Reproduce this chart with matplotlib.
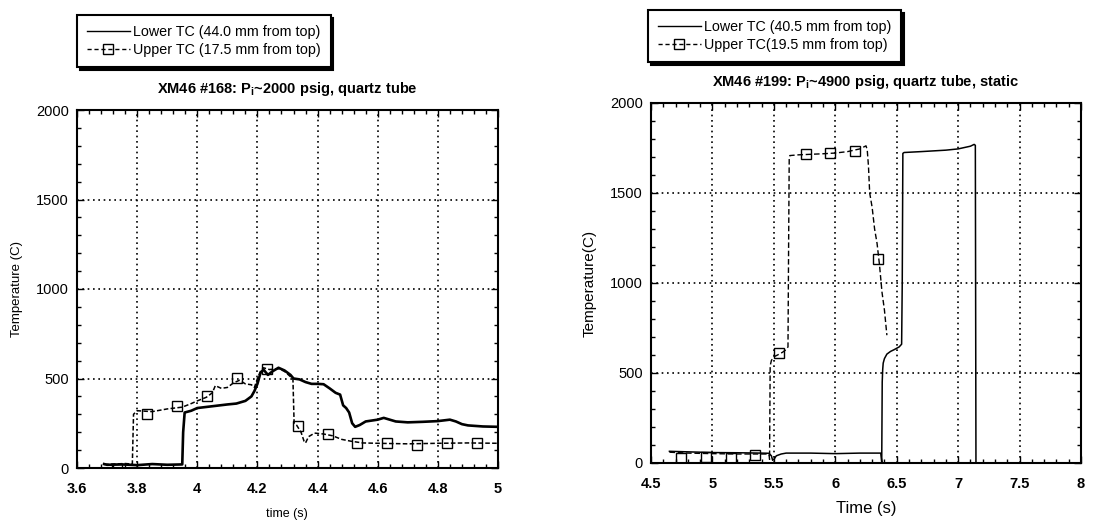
import matplotlib
matplotlib.use("Agg")
import matplotlib.pyplot as plt
from matplotlib.lines import Line2D
from matplotlib.ticker import MultipleLocator

plt.rcParams['font.family'] = ['Liberation Sans', 'DejaVu Sans']
plt.rcParams['mathtext.fontset'] = 'custom'
plt.rcParams['mathtext.rm'] = 'Liberation Sans:bold'

# ---------------- Left chart data (XM46 #168) ----------------
left_lower_t = [3.69, 3.70, 3.75, 3.80, 3.85, 3.90, 3.95, 3.953, 3.958, 3.98, 4.00, 4.05,
                4.10, 4.13, 4.16, 4.18, 4.19, 4.20, 4.21, 4.22, 4.235, 4.25, 4.27, 4.29,
                4.31, 4.32, 4.34, 4.36, 4.38, 4.40, 4.42, 4.44, 4.46, 4.475, 4.485, 4.495,
                4.505, 4.515, 4.525, 4.54, 4.56, 4.58, 4.60, 4.62, 4.64, 4.66, 4.70, 4.75,
                4.80, 4.84, 4.86, 4.88, 4.90, 4.95, 5.0]
left_lower_T = [22, 18, 20, 16, 22, 18, 20, 200, 310, 320, 335, 345,
                355, 360, 375, 400, 430, 470, 530, 550, 520, 540, 560, 545,
                520, 500, 495, 480, 470, 470, 468, 445, 420, 410, 350, 335,
                310, 250, 230, 240, 260, 265, 270, 280, 270, 260, 255, 258,
                262, 270, 260, 245, 238, 232, 230]

left_upper_t = [3.69, 3.72, 3.76, 3.784, 3.788, 3.80, 3.85, 3.90, 3.95, 3.98, 4.00, 4.03,
                4.05, 4.06, 4.08, 4.10, 4.12, 4.14, 4.16, 4.18, 4.19, 4.20, 4.21, 4.22,
                4.24, 4.27, 4.29, 4.31, 4.318, 4.322, 4.33, 4.345, 4.355, 4.36, 4.37,
                4.39, 4.42, 4.45, 4.48, 4.51, 4.55, 4.60, 4.70, 4.80, 4.90, 5.0]
left_upper_T = [20, 22, 25, 22, 300, 320, 315, 330, 340, 360, 375, 395,
                420, 460, 445, 450, 475, 490, 470, 465, 450, 500, 540, 560,
                550, 555, 540, 510, 500, 250, 240, 200, 150, 140, 175,
                195, 190, 180, 160, 150, 140, 138, 135, 138, 140, 138]

left_marker_t = [3.733, 3.833, 3.932, 4.032, 4.131, 4.231, 4.336, 4.436, 4.532, 4.632,
                 4.731, 4.831, 4.93]
left_marker_T = [-5, 300, 345, 405, 505, 555, 235, 190, 140, 140, 130, 140, 142]

# ---------------- Right chart data (XM46 #199) ----------------
right_lower_t = [4.65, 4.8, 5.0, 5.2, 5.4, 5.46, 5.48, 5.49, 5.50, 5.52, 5.56, 5.6, 5.8,
                 6.0, 6.2, 6.37, 6.378, 6.382, 6.386, 6.39, 6.40, 6.42, 6.45, 6.48, 6.52,
                 6.54, 6.545, 6.55, 6.56, 6.7, 6.9, 7.0, 7.1, 7.13, 7.14, 7.145]
right_lower_T = [65, 62, 58, 57, 55, 54, 40, 15, 20, 40, 50, 55, 55,
                 52, 55, 55, 5, 450, 520, 555, 580, 605, 620, 630, 645,
                 660, 1000, 1720, 1725, 1730, 1738, 1745, 1760, 1770, 1765, 0]

right_upper_t = [4.65, 4.8, 5.0, 5.2, 5.4, 5.46, 5.465, 5.47, 5.48, 5.50, 5.53, 5.57,
                 5.60, 5.615, 5.62, 5.625, 5.63, 5.70, 5.80, 5.90, 6.00, 6.10, 6.20,
                 6.25, 6.26, 6.27, 6.28, 6.30, 6.32, 6.34, 6.36, 6.38, 6.40, 6.42]
right_upper_T = [60, 55, 52, 50, 50, 50, 20, 540, 570, 590, 600, 615,
                 630, 645, 1200, 1690, 1708, 1712, 1715, 1718, 1722, 1730, 1745,
                 1762, 1740, 1650, 1500, 1420, 1300, 1220, 1100, 950, 850, 710]

right_marker_t = [4.745, 4.95, 5.148, 5.347, 5.545, 5.76, 5.96, 6.16, 6.35]
right_marker_T = [28, 33, 28, 46, 611, 1715, 1722, 1736, 1133]

left_labels = ["Lower TC (44.0 mm from top)", "Upper TC (17.5 mm from top)"]
right_labels = ["Lower TC (40.5 mm from top)", "Upper TC(19.5 mm from top)"]
left_title = r"XM46 #168: P$_\mathregular{i}$~2000 psig, quartz tube"
right_title = r"XM46 #199: P$_\mathregular{i}$~4900 psig, quartz tube, static"

fig = plt.figure(figsize=(11.09, 5.21), dpi=100)
W, H = 1109, 521

def axes_px(x0, x1, ytop, ybot):
    return fig.add_axes([x0 / W, 1 - ybot / H, (x1 - x0) / W, (ybot - ytop) / H])

axL = axes_px(77, 498, 110, 468)
axR = axes_px(651, 1081, 103, 463)

grid_kw = dict(color='black', linestyle=(0, (1, 2.2)), linewidth=1.2)

def style(ax, xlim, xmaj, xmin):
    ax.set_xlim(*xlim)
    ax.set_ylim(0, 2000)
    ax.xaxis.set_major_locator(MultipleLocator(xmaj))
    ax.xaxis.set_minor_locator(MultipleLocator(xmin))
    ax.yaxis.set_major_locator(MultipleLocator(500))
    ax.yaxis.set_minor_locator(MultipleLocator(100))
    ax.tick_params(which='both', direction='in', top=True, right=True, width=1.0)
    ax.tick_params(which='major', length=5)
    ax.tick_params(which='minor', length=3)
    ax.tick_params(axis='x', which='major', labelsize=10.5, pad=10)
    ax.tick_params(axis='y', which='major', labelsize=10.5, pad=6)
    ax.grid(True, which='major', **grid_kw)
    for s in ax.spines.values():
        s.set_linewidth(1.5)
    ax.set_axisbelow(True)

# Left
axL.plot(left_lower_t, left_lower_T, color='black', lw=1.9, solid_joinstyle='round')
axL.plot(left_upper_t, left_upper_T, color='black', lw=1.1, linestyle=(0, (3, 1.5)))
axL.plot(left_marker_t, left_marker_T, linestyle='none', marker='s', ms=7,
         mfc='none', mec='black', mew=1.0)
style(axL, (3.6, 5.0), 0.2, 0.04)
axL.set_xticks([3.6, 3.8, 4.0, 4.2, 4.4, 4.6, 4.8, 5.0])
axL.set_xticklabels(["3.6", "3.8", "4", "4.2", "4.4", "4.6", "4.8", "5"], fontweight='bold')
axL.set_xlabel("time (s)", fontsize=9)
axL.set_ylabel("Temperature (C)", fontsize=9.5)
axL.xaxis.set_label_coords(0.499, -0.112)
axL.yaxis.set_label_coords(-0.128, 0.5)
axL.set_title(left_title, fontsize=10.5, fontweight='bold', pad=12)

# Right
axR.plot(right_lower_t, right_lower_T, color='black', lw=1.1)
axR.plot(right_upper_t, right_upper_T, color='black', lw=1.0, linestyle=(0, (4, 2)))
axR.plot(right_marker_t, right_marker_T, linestyle='none', marker='s', ms=7,
         mfc='none', mec='black', mew=1.0)
style(axR, (4.5, 8.0), 0.5, 0.1)
axR.set_xticks([4.5, 5, 5.5, 6, 6.5, 7, 7.5, 8])
axR.set_xticklabels(["4.5", "5", "5.5", "6", "6.5", "7", "7.5", "8"], fontweight='bold')
axR.set_xlabel("Time (s)", fontsize=12)
axR.set_ylabel("Temperature(C)", fontsize=11)
axR.xaxis.set_label_coords(0.5, -0.105)
axR.yaxis.set_label_coords(-0.126, 0.5)
axR.set_title(right_title, fontsize=10.5, fontweight='bold', pad=12)

def legend(labels, anchor):
    h = [Line2D([], [], color='black', lw=1.0),
         Line2D([], [], color='black', lw=1.0, linestyle=(0, (3, 2)), marker='s',
                ms=7, mfc='none', mec='black')]
    leg = fig.legend(h, labels, loc='upper left', bbox_to_anchor=anchor,
                     fontsize=10.3, frameon=True, fancybox=False,
                     shadow={'color': 'black', 'alpha': 1.0},
                     edgecolor='black', handlelength=3.0, handletextpad=0.2,
                     labelspacing=0.3, borderpad=0.7, borderaxespad=0)
    leg.get_frame().set_linewidth(1.5)
    return leg

legend(left_labels, (77 / W, 1 - 15 / H))
legend(right_labels, (648 / W, 1 - 10 / H))

fig.savefig("out.png", dpi=100)
